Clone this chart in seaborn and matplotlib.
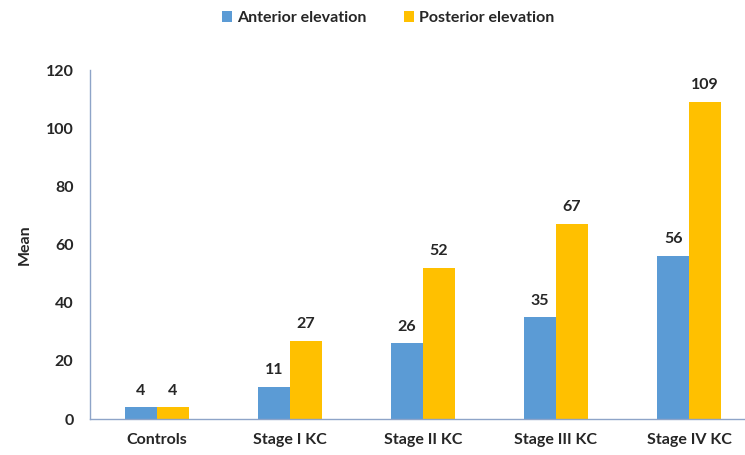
import matplotlib
matplotlib.use("Agg")
import matplotlib.pyplot as plt
import seaborn as sns
import pandas as pd

categories = ["Controls", "Stage I KC", "Stage II KC", "Stage III KC", "Stage IV KC"]
series_names = ["Anterior elevation", "Posterior elevation"]
anterior = [4, 11, 26, 35, 56]
posterior = [4, 27, 52, 67, 109]
y_ticks = [0, 20, 40, 60, 80, 100, 120]

df = pd.DataFrame({
    "cat": categories * 2,
    "series": [series_names[0]] * len(categories) + [series_names[1]] * len(categories),
    "value": anterior + posterior,
})

sns.set_style("white")
plt.rcParams["font.family"] = ["Lato", "DejaVu Sans"]

fig = plt.figure(figsize=(7.45, 4.55), dpi=100)
ax = fig.add_axes([0.121, 0.079, 0.879, 0.767])

palette = {series_names[0]: "#5B9BD5", series_names[1]: "#FFC000"}
sns.barplot(data=df, x="cat", y="value", hue="series", palette=palette,
            width=0.48, gap=0, saturation=1, ax=ax, legend=True, linewidth=0)

for cont in ax.containers:
    ax.bar_label(cont, labels=[f"{v:.0f}" for v in cont.datavalues], padding=7,
                 fontsize=11.5, fontweight="bold", color="#262626")

ax.set_ylim(0, 120)
ax.set_yticks(y_ticks)
ax.set_xlim(-0.5, 4.42)
ax.set_xlabel("")
ax.set_ylabel("Mean", fontsize=11.5, fontweight="bold", color="#262626", labelpad=10)
ax.tick_params(axis="x", length=0, labelsize=11.5, colors="#262626", pad=10)
ax.tick_params(axis="y", length=0, labelsize=11.5, colors="#262626", pad=12)
for lbl in ax.get_xticklabels() + ax.get_yticklabels():
    lbl.set_fontweight("bold")

for s in ["top", "right"]:
    ax.spines[s].set_visible(False)
for s in ["left", "bottom"]:
    ax.spines[s].set_color("#8EA4C8")
    ax.spines[s].set_linewidth(1)

handles, labels = ax.get_legend_handles_labels()
ax.legend(handles, labels, loc="center", bbox_to_anchor=(0.455, 1.149), ncol=2,
          frameon=False, handlelength=0.6, handleheight=0.6,
          handletextpad=0.3, columnspacing=2.4, prop={"weight": "bold", "size": 11.5})
for t in ax.get_legend().get_texts():
    t.set_color("#262626")

fig.savefig("out.png", dpi=100)
